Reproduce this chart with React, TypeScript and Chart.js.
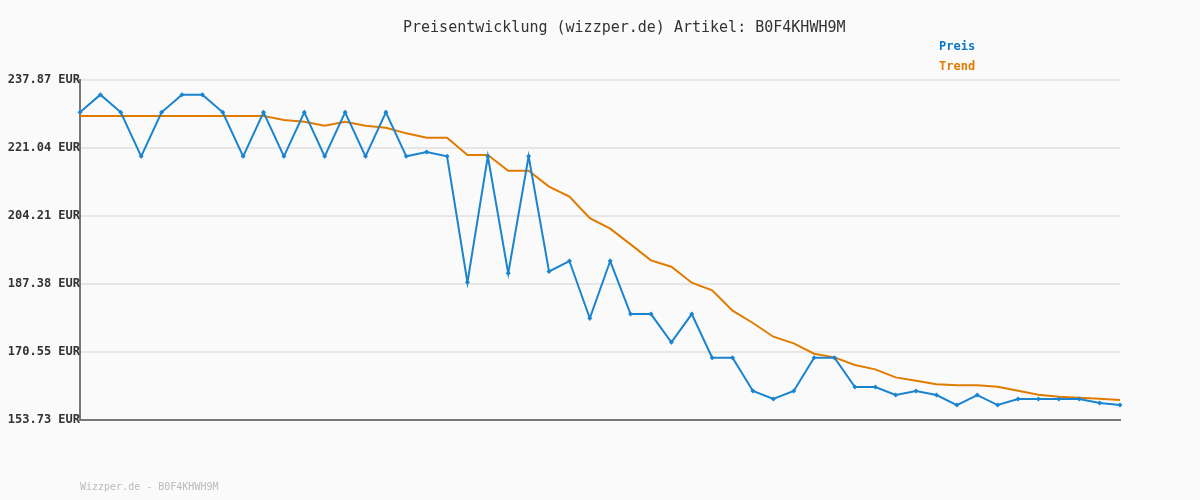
import React, { useEffect, useRef } from "react";
import { Chart, registerables } from "chart.js";

Chart.register(...registerables);

const chartTitle = "Preisentwicklung (wizzper.de) Artikel: B0F4KHWH9M";
const footerText = "Wizzper.de - B0F4KHWH9M";

const categories: string[] = Array.from({ length: 52 }, (_, i) => String(i + 1));

const priceValues: number[] = [
  229.87, 234.24, 229.87, 218.98, 229.87, 234.24, 234.24, 229.87, 218.98, 229.87,
  218.98, 229.87, 218.98, 229.87, 218.98, 229.87, 218.98, 220.05, 218.98, 187.79,
  218.98, 190.02, 218.98, 190.51, 193.07, 178.88, 193.07, 179.95, 179.95, 172.94,
  179.95, 169.15, 169.15, 160.9, 158.92, 160.9, 169.15, 169.15, 161.89, 161.89,
  159.91, 160.9, 159.91, 157.43, 159.91, 157.43, 158.92, 158.92, 158.92, 158.92,
  157.93, 157.43,
];

const trendValues: number[] = [
  228.96, 228.96, 228.96, 228.96, 228.96, 228.96, 228.96, 228.96, 228.96, 228.96,
  227.97, 227.56, 226.57, 227.56, 226.57, 226.07, 224.67, 223.6, 223.6, 219.31,
  219.31, 215.43, 215.43, 211.5, 209.0, 203.7, 201.07, 197.2, 193.24, 191.67,
  187.71, 185.81, 180.78, 177.73, 174.34, 172.69, 170.14, 169.23, 167.33, 166.26,
  164.28, 163.45, 162.55, 162.3, 162.3, 161.97, 160.98, 159.99, 159.49, 159.25,
  159.0, 158.67,
];

const yTickValues: number[] = [153.73, 170.55, 187.38, 204.21, 221.04, 237.87];

const seriesLabels = ["Preis", "Trend"];
const lineColors = ["#1a84cf", "#e07b00"];
const legendColors = ["#0b76c4", "#e07b00"];

const MONO = "'DejaVu Sans Mono', 'Liberation Mono', monospace";

const decorPlugin = {
  id: "decor",
  beforeDraw(chart: any) {
    const { ctx, width, height } = chart;
    ctx.save();
    ctx.fillStyle = "#fafafa";
    ctx.fillRect(0, 0, width, height);
    ctx.restore();
  },
  afterDraw(chart: any) {
    const { ctx } = chart;
    ctx.save();
    ctx.textBaseline = "middle";
    ctx.textAlign = "left";
    // title
    ctx.font = `15px ${MONO}`;
    ctx.fillStyle = "#333333";
    ctx.fillText(chartTitle, 403, 28);
    // legend
    ctx.font = `bold 12px ${MONO}`;
    chart.data.datasets.forEach((ds: any, i: number) => {
      ctx.fillStyle = legendColors[i];
      ctx.fillText(ds.label, 939, 47 + i * 20);
    });
    // footer
    ctx.font = `10px ${MONO}`;
    ctx.fillStyle = "#bbbbbb";
    ctx.fillText(footerText, 80, 487);
    ctx.restore();
  },
};

export default function App() {
  const canvasRef = useRef<HTMLCanvasElement | null>(null);

  useEffect(() => {
    document.body.style.margin = "0";
    document.body.style.background = "#fafafa";
    const canvas = canvasRef.current;
    if (!canvas) return;
    const chart = new Chart(canvas, {
      type: "line",
      data: {
        labels: categories,
        datasets: [
          {
            label: seriesLabels[0],
            data: priceValues,
            borderColor: lineColors[0],
            backgroundColor: lineColors[0],
            borderWidth: 2,
            pointStyle: "rectRot",
            pointRadius: 2.5,
            pointBorderWidth: 0,
            pointBackgroundColor: lineColors[0],
            tension: 0,
            order: 1,
          },
          {
            label: seriesLabels[1],
            data: trendValues,
            borderColor: lineColors[1],
            backgroundColor: lineColors[1],
            borderWidth: 2,
            pointRadius: 0,
            tension: 0,
            order: 2,
          },
        ],
      },
      options: {
        responsive: false,
        animation: false,
        layout: { padding: { left: 0, right: 80, top: 80, bottom: 80 } },
        plugins: {
          legend: { display: false },
          title: { display: false },
          tooltip: { enabled: false },
        },
        scales: {
          x: {
            type: "category",
            offset: false,
            grid: { display: false, drawTicks: false },
            border: { display: true, color: "#777777", width: 2 },
            ticks: { display: false },
            afterFit(scale: any) {
              scale.height = 0;
            },
          },
          y: {
            min: yTickValues[0],
            max: yTickValues[yTickValues.length - 1],
            grid: { color: "#e6e6e6", lineWidth: 2, drawTicks: false },
            border: { display: true, color: "#777777", width: 2 },
            afterBuildTicks(scale: any) {
              scale.ticks = yTickValues.map((v) => ({ value: v }));
            },
            afterFit(scale: any) {
              scale.width = 80;
            },
            ticks: {
              padding: 0,
              color: "#333333",
              font: { family: MONO, size: 12, weight: "bold" },
              callback: (v: any) => Number(v).toFixed(2) + " EUR",
            },
          },
        },
      },
      plugins: [decorPlugin],
    });
    return () => chart.destroy();
  }, []);

  return (
    <div style={{ width: 1200, height: 500, background: "#fafafa" }}>
      <canvas ref={canvasRef} width={1200} height={500} style={{ display: "block" }} />
    </div>
  );
}
